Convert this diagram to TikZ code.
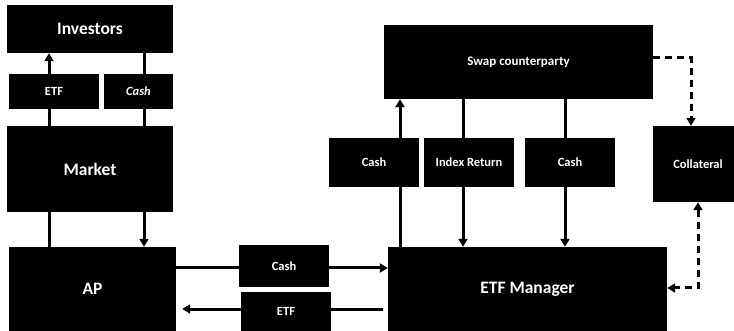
\documentclass[tikz,border=0pt]{standalone}
\usepackage{fontspec}
\setmainfont{Carlito}
\usetikzlibrary{arrows.meta,backgrounds}

\begin{document}
\begin{tikzpicture}[x=1pt,y=-1pt,
  box/.style={fill=black,text=white,font=\bfseries,inner sep=0pt},
  big/.style={box,font=\bfseries\fontsize{17.5}{20}\selectfont},
  small/.style={box,font=\bfseries\fontsize{12.5}{14}\selectfont,minimum width=90pt},
  link/.style={line width=3pt},
  arr/.style={link,-{Triangle[length=8pt,width=9pt]}},
  dashlink/.style={link,dash pattern=on 7pt off 5pt}]
\useasboundingbox (0,0) rectangle (734,331);
% left column
\node[big,minimum width=166pt,minimum height=48pt] (inv) at (90,29) {Investors};
\node[small,minimum height=35pt] (etfS) at (54,91.5) {ETF};
\node[small,minimum width=69pt,minimum height=35pt] (cashS) at (138.5,91.5) {\itshape Cash};
\node[big,minimum width=166pt,minimum height=86pt] (mkt) at (90,169) {Market};
\node[big,minimum width=167pt,minimum height=84pt] (ap) at (92.5,289) {AP};
% middle
\node[small,minimum height=42pt] (cashM) at (284,266) {Cash};
\node[small,minimum height=39pt] (etfM) at (286,311.5) {ETF};
% right
\node[box,font=\bfseries\fontsize{13}{15}\selectfont,minimum width=269pt,minimum height=74pt] (swap) at (518.5,62) {Swap counterparty};
\node[small,minimum height=49pt] (cashL) at (374,162.5) {Cash};
\node[small,minimum height=49pt] (idx) at (469,162.5) {Index Return};
\node[small,minimum height=49pt] (cashR) at (570,162.5) {Cash};
\node[small,minimum height=76pt] (coll) at (698,164) {Collateral};
\node[big,minimum width=279pt,minimum height=84pt] (mgr) at (527.5,289) {ETF Manager};
\begin{scope}[on background layer]
% investors / market / AP
\draw[arr] (mkt.north -| 49,0) -- (inv.south -| 49,0);
\draw[link] (inv.south -| 144,0) -- (mkt.north -| 144,0);
\draw[link] (mkt.south -| 49,0) -- (ap.north -| 49,0);
\draw[arr] (mkt.south -| 144,0) -- (ap.north -| 144,0);
% AP <-> manager
\draw[arr] (ap.east |- 0,268) -- (mgr.west |- 0,268);
\draw[arr] ([xshift=-5pt]mgr.west |- 0,309) -- ([xshift=6pt]ap.east |- 0,309);
% manager <-> swap
\draw[arr] (mgr.north -| 400,0) -- (swap.south -| 400,0);
\draw[arr] ([yshift=5pt]swap.south -| 463,0) -- (mgr.north -| 463,0);
\draw[arr] ([yshift=2pt]swap.south -| 565,0) -- (mgr.north -| 565,0);
% collateral
\draw[dashlink,-{Triangle[length=8pt,width=9pt]}] (swap.east |- 0,58) -- (691,58) -- (coll.north -| 691,0);
\draw[dashlink,{Triangle[length=8pt,width=9pt]}-{Triangle[length=8pt,width=9pt]}] (coll.south -| 698,0) -- (698,288) -- (mgr.east |- 0,288);
\end{scope}
\end{tikzpicture}
\end{document}
